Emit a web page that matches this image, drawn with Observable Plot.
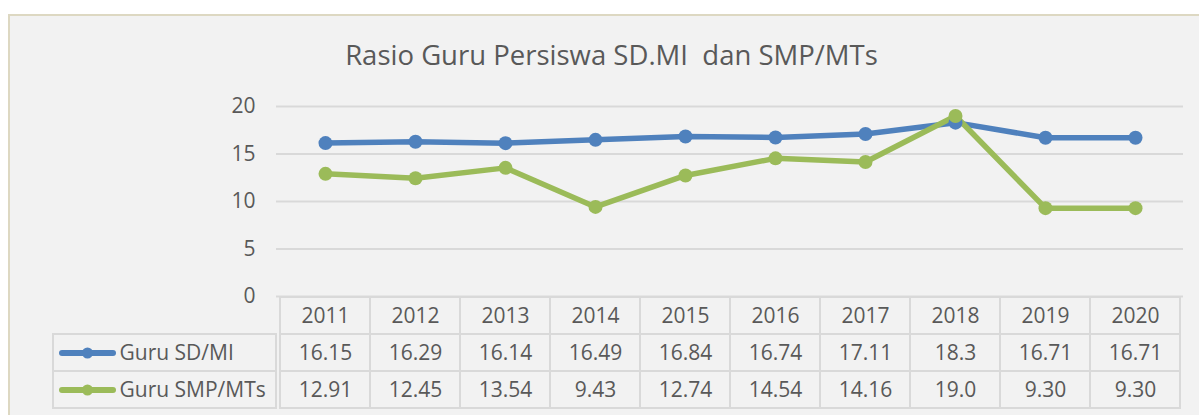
<!DOCTYPE html>
<html>
<head>
<meta charset="utf-8">
<script src="https://cdn.jsdelivr.net/npm/d3@7"></script>
<script src="https://cdn.jsdelivr.net/npm/@observablehq/plot@0.6"></script>
<style>
  html, body { margin: 0; padding: 0; background: #ffffff; width: 1199px; height: 415px; overflow: hidden; }
  #frame { position: absolute; left: 8px; top: 14px; width: 1220px; height: 430px; background: #f2f2f2;
           border-left: 2px solid #ddd8c2; border-top: 2px solid #ddd8c2; box-sizing: border-box; }
  #title { position: absolute; left: 0; width: 1223px; top: 41px; text-align: center; white-space: pre;
           font-family: "Open Sans", sans-serif; font-size: 27.5px; line-height: 27.5px; color: #595959; }
  #chart { position: absolute; left: 0; top: 90px; }
  #table { position: absolute; left: 0; top: 280px; }
</style>
</head>
<body>
<div id="frame"></div>
<div id="title">Rasio Guru Persiswa SD.MI  dan SMP/MTs</div>
<div id="chart"></div>
<div id="table"></div>
<script>
// ---- data ----
const years = ["2011", "2012", "2013", "2014", "2015", "2016", "2017", "2018", "2019", "2020"];
const seriesNames = ["Guru SD/MI", "Guru SMP/MTs"];
const seriesColors = ["#4f81bd", "#9bbb59"];
const guruSDMI = [16.15, 16.29, 16.14, 16.49, 16.84, 16.74, 17.11, 18.3, 16.71, 16.71];
const guruSMPMTs = [12.91, 12.45, 13.54, 9.43, 12.74, 14.54, 14.16, 19.0, 9.30, 9.30];
const labelsSDMI = ["16.15", "16.29", "16.14", "16.49", "16.84", "16.74", "17.11", "18.3", "16.71", "16.71"];
const labelsSMPMTs = ["12.91", "12.45", "13.54", "9.43", "12.74", "14.54", "14.16", "19.0", "9.30", "9.30"];
const yTicks = [0, 5, 10, 15, 20];

// ---- derived tables ----
const seriesValues = [guruSDMI, guruSMPMTs];
const seriesLabels = [labelsSDMI, labelsSMPMTs];
const lineData = seriesNames.flatMap((name, s) =>
  years.map((year, i) => ({series: name, year, value: seriesValues[s][i]})));
const headerKey = "Tahun";
const rowDomain = [headerKey, ...seriesNames];
const tableData = [
  ...years.map(year => ({row: headerKey, year, label: year})),
  ...seriesNames.flatMap((name, s) => years.map((year, i) => ({row: name, year, label: seriesLabels[s][i]})))
];
const legendData = seriesNames.map(name => ({name}));

const W = 1199, ML = 276, MR = 16;
const FRAME_W = W - ML - MR;
const FONT = "'Open Sans', sans-serif";
const FS = 21;
const TXT = "#595959";
const GRID = "#d9d9d9";

const colorScale = {domain: seriesNames, range: seriesColors};
const xScale = {type: "band", domain: years, padding: 0};

// ---- chart ----
const chart = Plot.plot({
  width: W,
  height: 216,
  marginLeft: ML,
  marginRight: MR,
  marginTop: 16,
  marginBottom: 10,
  style: {fontFamily: FONT, fontSize: FS + "px", color: TXT, background: "transparent", overflow: "visible"},
  x: {...xScale, axis: null},
  y: {domain: [0, 20]},
  color: colorScale,
  marks: [
    Plot.ruleY(yTicks, {stroke: GRID, strokeWidth: 2}),
    Plot.axisY(yTicks, {tickSize: 0, tickPadding: 21, fontSize: FS, fill: TXT, label: null}),
    Plot.line(lineData, {x: "year", y: "value", z: "series", stroke: "series", strokeWidth: 5.5, strokeLinejoin: "round", strokeLinecap: "round"}),
    Plot.dot(lineData, {x: "year", y: "value", fill: "series", r: 7, stroke: "none"})
  ]
});
document.getElementById("chart").appendChild(chart);

// ---- data table ----
const LEG_LEFT = 53;
const table = Plot.plot({
  width: W,
  height: 135,
  marginLeft: ML,
  marginRight: MR,
  marginTop: 17,
  marginBottom: 7,
  style: {fontFamily: FONT, fontSize: FS + "px", color: TXT, background: "transparent", overflow: "visible"},
  x: {...xScale, axis: null},
  y: {type: "band", domain: rowDomain, padding: 0, axis: null},
  color: colorScale,
  marks: [
    Plot.cell(tableData, {x: "year", y: "row", fill: "none", stroke: GRID, strokeWidth: 2}),
    Plot.cell(legendData, {y: "name", fill: "none", stroke: GRID, strokeWidth: 2, insetLeft: LEG_LEFT - ML, insetRight: FRAME_W}),
    Plot.text(tableData, {x: "year", y: "row", text: "label", fill: TXT, fontSize: FS}),
    Plot.tickY(legendData, {y: "name", stroke: "name", strokeWidth: 6, strokeLinecap: "round", insetLeft: 62 - ML, insetRight: W - MR - 113}),
    Plot.dot(legendData, {y: "name", frameAnchor: "left", dx: 87 - ML, r: 5.5, fill: "name", stroke: "none"}),
    Plot.text(legendData, {y: "name", text: "name", frameAnchor: "left", dx: 119 - ML, textAnchor: "start", fill: TXT, fontSize: FS})
  ]
});
document.getElementById("table").appendChild(table);
</script>
</body>
</html>
